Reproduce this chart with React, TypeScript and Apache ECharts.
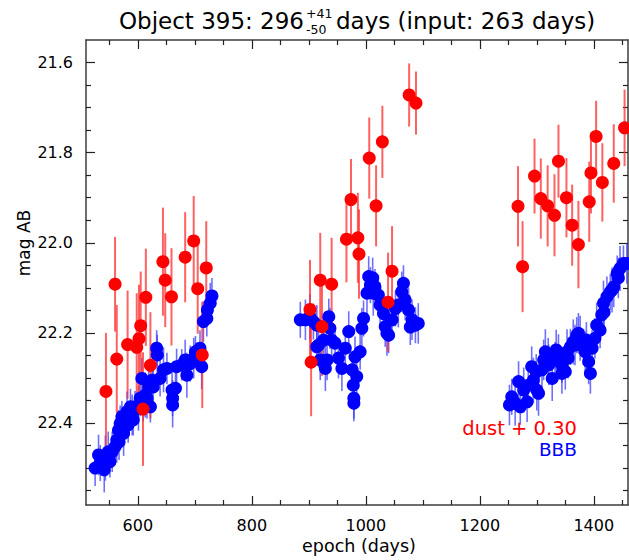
import { useEffect, useRef } from 'react';
import * as echarts from 'echarts';

// ---- axis ranges & ticks ----
const X_MIN = 509;
const X_MAX = 1460;
const Y_MIN = 21.55;
const Y_MAX = 22.582;

const xMajorTicks = [600, 800, 1000, 1200, 1400];
const xMinorTicks = [550, 650, 700, 750, 850, 900, 950, 1050, 1100, 1150, 1250, 1300, 1350, 1450];
const yMajorTicks = [21.6, 21.8, 22.0, 22.2, 22.4];
const yMinorTicks = [21.65, 21.7, 21.75, 21.85, 21.9, 21.95, 22.05, 22.1, 22.15, 22.25, 22.3, 22.35, 22.45, 22.5, 22.55];

// ---- dust + 0.30 (red): [epoch, mag, err] ----
const dustSeason1 = [
  [544, 22.330, 0.13], [560, 22.092, 0.105], [563, 22.258, 0.12], [582, 22.226, 0.12],
  [598, 22.232, 0.12], [602, 22.213, 0.12], [605, 22.184, 0.12], [614, 22.121, 0.108],
  [622, 22.272, 0.118], [609, 22.369, 0.126], [644, 22.042, 0.12], [648, 22.083, 0.104],
  [659, 22.120, 0.108], [683, 22.032, 0.1], [698, 21.996, 0.1], [705, 22.102, 0.1],
  [720, 22.056, 0.104], [713, 22.249, 0.118],
];
const dustSeason2 = [
  [902, 22.148, 0.11], [904, 22.265, 0.12], [920, 22.083, 0.105], [923, 22.186, 0.11],
  [940, 22.092, 0.103], [966, 21.992, 0.096], [974, 21.904, 0.09], [986, 21.989, 0.1],
  [988, 22.025, 0.099], [1006, 21.812, 0.09], [1018, 21.918, 0.09], [1029, 21.776, 0.08],
  [1046, 22.063, 0.1], [1039, 22.132, 0.11], [1076, 21.672, 0.07], [1088, 21.690, 0.07],
];
const dustSeason3 = [
  [1267, 21.919, 0.089], [1275, 22.053, 0.101], [1296, 21.852, 0.083], [1307, 21.902, 0.089],
  [1319, 21.918, 0.09], [1331, 21.939, 0.091], [1338, 21.819, 0.081], [1352, 21.900, 0.088],
  [1362, 21.961, 0.09], [1373, 22.004, 0.097], [1392, 21.909, 0.089], [1395, 21.845, 0.09],
  [1404, 21.764, 0.079], [1415, 21.866, 0.087], [1435, 21.824, 0.087], [1454, 21.745, 0.085],
];

// ---- BBB (blue): [epoch, mag, err] ----
const bbbSeason1 = [
  [525, 22.500, 0.04], [531, 22.471, 0.045], [534, 22.489, 0.04], [541, 22.504, 0.05],
  [543, 22.478, 0.05], [548, 22.464, 0.045], [551, 22.486, 0.035], [555, 22.464, 0.045],
  [560, 22.453, 0.04], [563, 22.438, 0.05], [566, 22.416, 0.045], [567, 22.442, 0.04],
  [569, 22.401, 0.04], [572, 22.386, 0.035], [575, 22.423, 0.05], [581, 22.375, 0.045],
  [583, 22.404, 0.04], [587, 22.364, 0.04], [590, 22.382, 0.045], [592, 22.393, 0.035],
  [595, 22.364, 0.035], [601, 22.367, 0.05], [604, 22.345, 0.04], [607, 22.301, 0.045],
  [609, 22.356, 0.04], [613, 22.338, 0.05], [616, 22.345, 0.045], [619, 22.320, 0.04],
  [622, 22.364, 0.035], [625, 22.305, 0.045], [627, 22.320, 0.05], [633, 22.234, 0.04],
  [634, 22.249, 0.045], [639, 22.301, 0.04], [645, 22.282, 0.05], [651, 22.279, 0.035],
  [660, 22.327, 0.045], [661, 22.345, 0.04], [661, 22.360, 0.05], [666, 22.323, 0.045],
  [668, 22.275, 0.04], [677, 22.271, 0.035], [683, 22.260, 0.045], [686, 22.294, 0.05],
  [692, 22.268, 0.04], [698, 22.256, 0.045], [701, 22.242, 0.035], [709, 22.234, 0.04],
  [712, 22.275, 0.05], [715, 22.175, 0.045], [721, 22.168, 0.04], [722, 22.149, 0.035],
  [727, 22.134, 0.045], [730, 22.118, 0.04],
];
const bbbSeason2 = [
  [885, 22.171, 0.04], [894, 22.171, 0.045], [902, 22.164, 0.05], [908, 22.175, 0.04],
  [914, 22.183, 0.045], [914, 22.231, 0.04], [917, 22.227, 0.05], [920, 22.260, 0.045],
  [926, 22.216, 0.04], [929, 22.279, 0.05], [932, 22.260, 0.045], [935, 22.164, 0.04],
  [937, 22.190, 0.045], [940, 22.216, 0.05], [946, 22.223, 0.04], [952, 22.256, 0.045],
  [958, 22.279, 0.05], [964, 22.234, 0.04], [970, 22.197, 0.045], [976, 22.282, 0.04],
  [978, 22.316, 0.05], [979, 22.345, 0.045], [979, 22.356, 0.04], [981, 22.253, 0.045],
  [984, 22.297, 0.05], [990, 22.242, 0.04], [993, 22.190, 0.045], [996, 22.168, 0.04],
  [1002, 22.112, 0.05], [1005, 22.075, 0.045], [1008, 22.094, 0.04], [1012, 22.078, 0.045],
  [1013, 22.112, 0.05], [1016, 22.098, 0.04], [1022, 22.116, 0.045], [1025, 22.138, 0.05],
  [1031, 22.157, 0.04], [1034, 22.186, 0.045], [1037, 22.201, 0.05], [1040, 22.205, 0.04],
  [1046, 22.171, 0.045], [1052, 22.146, 0.04], [1057, 22.138, 0.05], [1063, 22.109, 0.045],
  [1066, 22.090, 0.04], [1069, 22.127, 0.045], [1075, 22.149, 0.05], [1078, 22.187, 0.04],
  [1081, 22.171, 0.045], [1087, 22.183, 0.04], [1092, 22.179, 0.045],
];
const bbbSeason3 = [
  [1252, 22.360, 0.045], [1256, 22.342, 0.04], [1262, 22.356, 0.05], [1268, 22.308, 0.045],
  [1271, 22.364, 0.04], [1277, 22.327, 0.05], [1283, 22.353, 0.045], [1285, 22.316, 0.04],
  [1291, 22.275, 0.045], [1294, 22.305, 0.05], [1299, 22.287, 0.04], [1300, 22.327, 0.045],
  [1303, 22.334, 0.05], [1309, 22.282, 0.04], [1312, 22.260, 0.045], [1315, 22.242, 0.05],
  [1320, 22.251, 0.04], [1321, 22.271, 0.045], [1327, 22.301, 0.05], [1332, 22.260, 0.04],
  [1334, 22.238, 0.045], [1338, 22.253, 0.05], [1344, 22.271, 0.04], [1344, 22.290, 0.045],
  [1350, 22.286, 0.04], [1353, 22.242, 0.05], [1355, 22.256, 0.045], [1359, 22.231, 0.04],
  [1364, 22.220, 0.05], [1367, 22.227, 0.045], [1370, 22.205, 0.04], [1373, 22.201, 0.045],
  [1376, 22.212, 0.05], [1382, 22.231, 0.04], [1385, 22.242, 0.045], [1387, 22.216, 0.04],
  [1391, 22.264, 0.05], [1394, 22.290, 0.045], [1397, 22.234, 0.04], [1402, 22.212, 0.045],
  [1405, 22.183, 0.05], [1411, 22.194, 0.04], [1414, 22.160, 0.045], [1417, 22.134, 0.05],
  [1418, 22.154, 0.04], [1423, 22.120, 0.045], [1429, 22.109, 0.04], [1432, 22.105, 0.05],
  [1435, 22.098, 0.045], [1441, 22.068, 0.04], [1443, 22.078, 0.045], [1446, 22.057, 0.05],
  [1452, 22.046, 0.04], [1458, 22.046, 0.045],
];

const FONT = 'DejaVu Sans';

function makeAxis(kind: 'x' | 'y', position: string, ticks: number[], len: number, labels: boolean, line: boolean) {
  const isX = kind === 'x';
  return {
    type: 'value',
    position,
    min: isX ? X_MIN : Y_MIN,
    max: isX ? X_MAX : Y_MAX,
    inverse: !isX,
    axisLine: { show: line, onZero: false, lineStyle: { color: '#3c3c3c', width: 1.5 } },
    axisTick: {
      show: true,
      inside: true,
      length: len,
      customValues: ticks,
      lineStyle: { color: '#222', width: 1.2 },
    },
    axisLabel: labels
      ? {
          show: true,
          customValues: ticks,
          formatter: isX ? (v: number) => String(Math.round(v)) : (v: number) => v.toFixed(1),
          fontFamily: FONT,
          fontSize: 16,
          color: '#000',
          margin: isX ? 12 : 13,
        }
      : { show: false },
    splitLine: { show: false },
    minorTick: { show: false },
  };
}

function errSeries(data: number[][], color: string, width: number) {
  return {
    type: 'custom',
    xAxisIndex: 0,
    yAxisIndex: 0,
    clip: true,
    silent: true,
    data,
    encode: { x: 0, y: 1 },
    renderItem: (_params: any, api: any) => {
      const x = api.value(0);
      const y = api.value(1);
      const e = api.value(2);
      const a = api.coord([x, y - e]);
      const b = api.coord([x, y + e]);
      return {
        type: 'line',
        shape: { x1: a[0], y1: a[1], x2: b[0], y2: b[1] },
        style: { stroke: color, lineWidth: width },
      };
    },
  };
}

function dotSeries(data: number[][], color: string) {
  return {
    type: 'scatter',
    xAxisIndex: 0,
    yAxisIndex: 0,
    silent: true,
    symbol: 'circle',
    symbolSize: 13,
    itemStyle: { color, opacity: 1 },
    data: data.map((d) => [d[0], d[1]]),
  };
}

export default function App() {
  const ref = useRef<HTMLDivElement>(null);
  useEffect(() => {
    if (!ref.current) return;
    const chart = echarts.init(ref.current, undefined, { renderer: 'svg' });
    const dust = [...dustSeason1, ...dustSeason2, ...dustSeason3];
    const bbb = [...bbbSeason1, ...bbbSeason2, ...bbbSeason3];
    chart.setOption({
      animation: false,
      backgroundColor: '#fff',
      grid: { left: 86, right: 1, top: 40, bottom: 55 },
      xAxis: [
        makeAxis('x', 'bottom', xMajorTicks, 9, true, true),
        makeAxis('x', 'bottom', xMinorTicks, 5, false, false),
        makeAxis('x', 'top', xMajorTicks, 9, false, true),
        makeAxis('x', 'top', xMinorTicks, 5, false, false),
      ],
      yAxis: [
        makeAxis('y', 'left', yMajorTicks, 9, true, true),
        makeAxis('y', 'left', yMinorTicks, 5, false, false),
        makeAxis('y', 'right', yMajorTicks, 9, false, true),
        makeAxis('y', 'right', yMinorTicks, 5, false, false),
      ],
      series: [
        errSeries(bbb, 'rgba(50,50,255,0.7)', 1.6),
        dotSeries(bbb, '#0000ff'),
        errSeries(dust, 'rgba(255,45,45,0.75)', 2),
        dotSeries(dust, '#ff0000'),
      ],
      graphic: [
        { type: 'text', x: 304, y: 21, style: { text: 'Object 395: 296', fontFamily: FONT, fontSize: 23, fill: '#000', align: 'right', verticalAlign: 'middle' } },
        { type: 'text', x: 306, y: 13, style: { text: '+41', fontFamily: FONT, fontSize: 12.5, fill: '#000', align: 'left', verticalAlign: 'middle' } },
        { type: 'text', x: 306, y: 29, style: { text: '-50', fontFamily: FONT, fontSize: 12.5, fill: '#000', align: 'left', verticalAlign: 'middle' } },
        { type: 'text', x: 336, y: 21, style: { text: 'days (input: 263 days)', fontFamily: FONT, fontSize: 23, fill: '#000', align: 'left', verticalAlign: 'middle' } },
        { type: 'text', x: 24, y: 243, rotation: Math.PI / 2, style: { text: 'mag AB', fontFamily: FONT, fontSize: 17, fill: '#000', align: 'center', verticalAlign: 'middle' } },
        { type: 'text', x: 359, y: 546, style: { text: 'epoch (days)', fontFamily: FONT, fontSize: 17.5, fill: '#000', align: 'center', verticalAlign: 'middle' } },
        { type: 'text', x: 577, y: 428, style: { text: 'dust + 0.30', fontFamily: FONT, fontSize: 19.5, fill: '#ff0000', align: 'right', verticalAlign: 'middle' } },
        { type: 'text', x: 577, y: 449, style: { text: 'BBB', fontFamily: FONT, fontSize: 18.5, fill: '#0000ff', align: 'right', verticalAlign: 'middle' } },
      ],
    });
    return () => chart.dispose();
  }, []);
  return <div ref={ref} style={{ position: 'absolute', left: 0, top: 0, width: 629, height: 560 }} />;
}
